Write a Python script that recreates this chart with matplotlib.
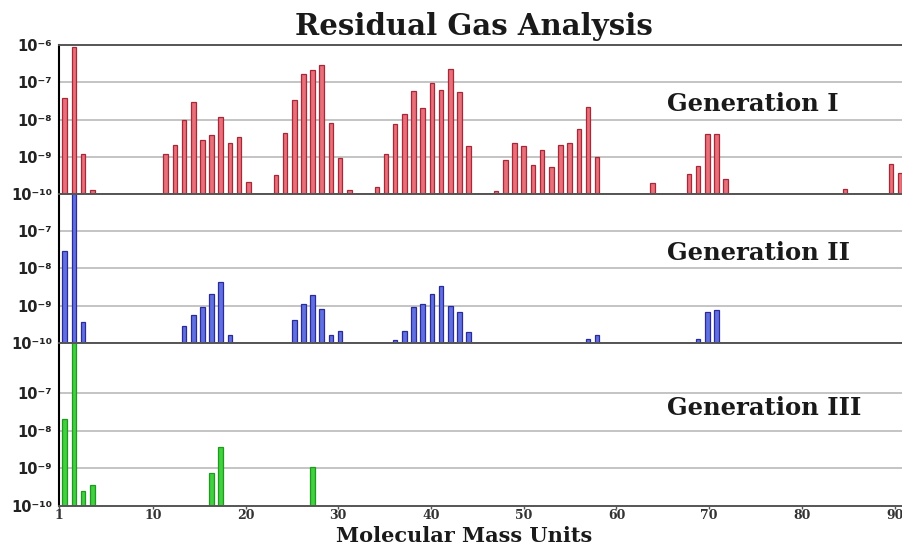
import matplotlib
matplotlib.use('agg')
from matplotlib import pyplot as plt
import numpy as np

# Residual gas spectra (partial pressure per mass unit)
gen1_mass = [1, 2, 3, 4,
             12, 13, 14, 15, 16, 17, 18, 19, 20, 21,
             24, 25, 26, 27, 28, 29, 30, 31, 32,
             35, 36, 37, 38, 39, 40, 41, 42, 43, 44, 45,
             48, 49, 50, 51, 52, 53, 54, 55, 56, 57, 58, 59,
             65, 69, 70, 71, 72, 73, 86, 91, 92]
gen1_vals = [3.7e-8, 8.9e-7, 1.2e-9, 1.15e-10,
             1.2e-9, 2.1e-9, 1.0e-8, 3.0e-8, 2.8e-9, 3.8e-9, 1.2e-8, 2.4e-9, 3.3e-9, 2.0e-10,
             3.2e-10, 4.3e-9, 3.3e-8, 1.7e-7, 2.2e-7, 2.9e-7, 7.9e-9, 9.1e-10, 1.15e-10,
             1.4e-10, 1.2e-9, 7.4e-9, 1.4e-8, 5.9e-8, 2.0e-8, 9.8e-8, 6.2e-8, 2.3e-7, 5.6e-8, 1.9e-9,
             1.1e-10, 8.1e-10, 2.3e-9, 2.0e-9, 6.0e-10, 1.5e-9, 5.1e-10, 2.1e-9, 2.4e-9, 5.5e-9, 2.2e-8, 1.0e-9,
             1.9e-10, 3.4e-10, 5.4e-10, 4.1e-9, 4.1e-9, 2.4e-10, 1.25e-10, 6.5e-10, 3.5e-10]

gen2_mass = [1, 2, 3,
             14, 15, 16, 17, 18, 19,
             26, 27, 28, 29, 30, 31,
             37, 38, 39, 40, 41, 42, 43, 44, 45,
             58, 59, 70, 71, 72]
gen2_vals = [2.9e-8, 1.5e-6, 3.5e-10,
             2.8e-10, 5.4e-10, 9.3e-10, 2.0e-9, 4.4e-9, 1.5e-10,
             4.1e-10, 1.1e-9, 1.9e-9, 7.9e-10, 1.5e-10, 2.0e-10,
             1.1e-10, 2.0e-10, 9.3e-10, 1.1e-9, 2.0e-9, 3.3e-9, 9.5e-10, 6.5e-10, 1.9e-10,
             1.2e-10, 1.5e-10, 1.2e-10, 6.5e-10, 7.6e-10]

gen3_mass = [1, 2, 3, 4, 17, 18, 28]
gen3_vals = [2.1e-8, 3.0e-6, 2.4e-10, 3.4e-10, 7.6e-10, 3.7e-9, 1.1e-9]

panel_names = ['Generation I', 'Generation II', 'Generation III']
x_ticks = [1, 10, 20, 30, 40, 50, 60, 70, 80, 90]

fig = plt.figure(figsize=(9.02, 5.45), dpi=100)

x_left, x_right = 0.38, 92.2
# (bottom, height, ymax, face, edge, show 1e-6 label)
panels = [
    (0.644, 0.273, 1e-6, '#e8707a', '#a82838', True),
    (0.371, 0.273, 1e-6, '#6070e0', '#2a2a9a', False),
    (0.072, 0.298, 2.16e-6, '#40d040', '#1f9a1f', False),
]
series = [(gen1_mass, gen1_vals), (gen2_mass, gen2_vals), (gen3_mass, gen3_vals)]
sup = {6: '⁻⁶', 7: '⁻⁷', 8: '⁻⁸', 9: '⁻⁹', 10: '⁻¹⁰'}

axes = []
for (bottom, height, ymax, face, edge, top_label), (mass, vals), name in zip(panels, series, panel_names):
    ax = fig.add_axes([0.0654, bottom, 1.0 - 0.0654, height])
    ax.set_yscale('log')
    ax.set_ylim(1e-10, ymax)
    ax.set_xlim(x_left, x_right)

    for lvl in [1e-7, 1e-8, 1e-9]:
        ax.axhline(lvl, color='#c4c4c4', lw=1.4, zorder=0)

    ax.bar(mass, vals, width=0.5, bottom=1e-11, color=face, edgecolor=edge,
           linewidth=0.9, zorder=2)

    exps = [6, 7, 8, 9, 10] if top_label else [7, 8, 9, 10]
    ax.set_yticks([10.0 ** -e for e in exps])
    ax.set_yticklabels(['10' + sup[e] for e in exps])
    ax.yaxis.set_minor_locator(matplotlib.ticker.NullLocator())
    ax.tick_params(axis='y', length=0, pad=5)
    for lab in ax.get_yticklabels():
        lab.set_fontfamily('DejaVu Sans')
        lab.set_fontweight('bold')
        lab.set_fontsize(10.5)
        lab.set_color('#222222')

    ax.spines['right'].set_visible(False)
    ax.spines['left'].set_color('black')
    ax.spines['left'].set_linewidth(1.5)
    for s in ['top', 'bottom']:
        ax.spines[s].set_color('#555555')
        ax.spines[s].set_linewidth(1.4)

    ax.text(0.721, 0.605, name, transform=ax.transAxes, ha='left', va='center',
            fontsize=17.5, fontweight='bold', family='DejaVu Serif', color='#1a1a1a')
    ax.set_facecolor('white')
    axes.append(ax)

for ax in axes[:2]:
    ax.set_xticks([])

bottom_ax = axes[2]
# labels sit a little right of the bar for that mass, as in the source chart
tick_pos = [x_left] + [t + 0.5 + t / 100 for t in x_ticks[1:]]
bottom_ax.set_xticks(tick_pos)
bottom_ax.set_xticklabels([str(t) for t in x_ticks], fontsize=9, fontweight='bold',
                          family='DejaVu Serif', color='#333333')
bottom_ax.tick_params(axis='x', length=2, width=1, pad=0.5, color='#555555')
bottom_ax.set_xlabel('Molecular Mass Units', fontsize=15, fontweight='bold',
                     family='DejaVu Serif', color='#1a1a1a')
bottom_ax.xaxis.set_label_coords(0.48, -0.125)

fig.suptitle('Residual Gas Analysis', x=0.525, y=0.978, fontsize=21, fontweight='bold',
             family='DejaVu Serif', color='#1a1a1a')

fig.savefig('out.png', dpi=100, facecolor='white')
plt.close()
